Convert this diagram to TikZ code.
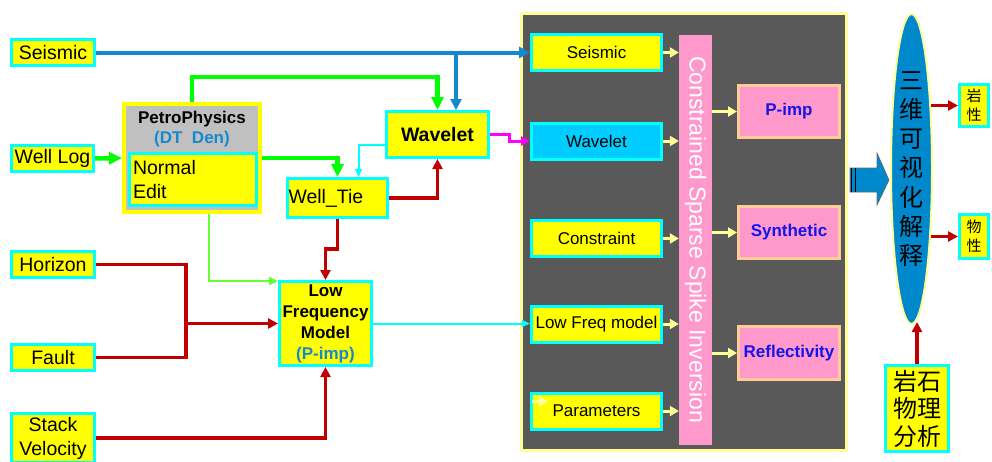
\documentclass[tikz,border=0pt]{standalone}
\usepackage{fontspec}
\setmainfont{Liberation Sans}
\newfontfamily\cjk{Noto Sans CJK SC}
\usetikzlibrary{arrows.meta,shapes.geometric,calc}
\definecolor{cyB}{RGB}{0,255,255}
\definecolor{yeF}{RGB}{255,255,0}
\definecolor{lblue}{RGB}{22,137,206}
\definecolor{gr}{RGB}{0,255,0}
\definecolor{lgr}{RGB}{102,255,51}
\definecolor{rd}{RGB}{192,0,0}
\definecolor{mg}{RGB}{255,0,255}
\definecolor{pan}{RGB}{89,89,89}
\definecolor{pale}{RGB}{255,255,153}
\definecolor{pk}{RGB}{255,153,204}
\definecolor{tanb}{RGB}{255,204,153}
\definecolor{otxt}{RGB}{20,20,235}
\definecolor{ppgray}{RGB}{192,192,192}
\definecolor{wcy}{RGB}{0,204,255}
\definecolor{ellb}{RGB}{0,136,204}
\tikzset{
  box/.style={draw=cyB, line width=3pt, fill=yeF, inner sep=0pt, align=center, font=\fontsize{19.5}{23}\selectfont},
  rbox/.style={box, font=\fontsize{17}{20}\selectfont, minimum width=130pt, minimum height=36pt},
  obox/.style={draw=tanb, line width=3pt, fill=pk, inner sep=0pt, minimum width=101pt, minimum height=52pt, font=\bfseries\fontsize{17}{20}\selectfont, text=otxt},
  blueA/.style={draw=lblue, line width=4pt, -{Triangle[length=11pt,width=11pt]}},
  greenA/.style={draw=gr, line width=4.5pt, -{Triangle[length=13pt,width=12pt]}},
  lgreenA/.style={draw=lgr, line width=2.2pt, -{Triangle[length=9pt,width=8pt]}},
  cyanA/.style={draw=cyB, line width=2pt, -{Triangle[length=8pt,width=7pt]}},
  redA/.style={draw=rd, line width=3.5pt, -{Triangle[length=10pt,width=10pt]}},
  redL/.style={draw=rd, line width=3.5pt},
  magA/.style={draw=mg, line width=3pt, -{Triangle[length=9pt,width=9pt]}},
  yA/.style={draw=pale, line width=3pt, -{Triangle[length=9pt,width=10pt]}},
}
\begin{document}
\begin{tikzpicture}[x=1pt,y=-1pt]
\useasboundingbox (0,0) rectangle (992,461);
% panel
\node[draw=pale, line width=3pt, fill=pan, minimum width=325pt, minimum height=437pt, inner sep=0pt] (panel) at (684,232) {};
% left inputs
\node[box, minimum width=83pt, minimum height=26pt] (sL) at (53,52.5) {Seismic};
\node[box, minimum width=82pt, minimum height=26pt] (wL) at (52.5,158.5) {Well Log};
\node[box, minimum width=83pt, minimum height=26pt] (hL) at (53,264.5) {Horizon};
\node[box, minimum width=83pt, minimum height=26pt] (fL) at (53,357.5) {Fault};
\node[box, minimum width=83pt, minimum height=49pt, font=\fontsize{19.5}{24}\selectfont] (svL) at (53,438) {Stack\\Velocity};
% petrophysics
\node[draw=yeF, line width=4pt, fill=ppgray, minimum width=136pt, minimum height=108pt, inner sep=0pt] (pp) at (192,158) {};
\node[font=\bfseries\fontsize{17}{20}\selectfont, align=center, inner sep=0pt] (ppT) at (192,129) {PetroPhysics\\\textcolor{lblue}{(DT\ \ Den)}};
\node[box, minimum height=52pt, text width=120pt, inner xsep=3.5pt, align=left, font=\fontsize{19.5}{24}\selectfont] (ppIn) at (193,179.5) {Normal\\Edit};
% wavelet, well tie, LFM
\node[box, font=\bfseries\fontsize{19.5}{23}\selectfont, minimum width=102pt, minimum height=46pt] (wav) at (437.5,134.5) {Wavelet};
\node[box, minimum height=39pt, text width=98pt, inner xsep=1pt, align=left] (wt) at (337.5,198) {Well\_Tie};
\node[box, font=\bfseries\fontsize{17}{21}\selectfont, minimum width=92pt, minimum height=84pt] (lfm) at (325.5,323.5) {Low\\Frequency\\Model\\\textcolor{lblue}{(P-imp)}};
% right panel boxes
\node[rbox] (rS) at (596.5,52.5) {Seismic};
\node[rbox, fill=wcy] (rW) at (596.5,141) {Wavelet};
\node[rbox] (rC) at (596.5,238.5) {Constraint};
\node[rbox] (rL) at (596.5,324) {Low Freq model};
\node[rbox] (rP) at (596.5,411) {Parameters};
\node[fill=pk, minimum width=33pt, minimum height=410pt, inner sep=0pt] (bar) at (695.5,240) {};
\node[rotate=-90, text=white, font=\fontsize{23}{26}\selectfont, inner sep=0pt] (barT) at (695.5,239.5) {Constrained Sparse Spike Inversion};
\node[obox] (oP) at (789,111.5) {P-imp};
\node[obox] (oS) at (789,232.5) {Synthetic};
\node[obox, minimum height=53pt] (oR) at (789,353) {Reflectivity};
% big arrow
\fill[ellb, draw=black!60, line width=0.6pt] (850,168) -- (877,168) -- (877,153) -- (889,180) -- (877,205) -- (877,192) -- (850,192) -- cycle;
\draw[black, line width=1pt] (851.5,168) -- (851.5,192);
\draw[black, line width=1pt] (855,168) -- (855,192);
% ellipse
\node[ellipse, draw=pale, line width=2pt, fill=ellb, minimum width=41pt, minimum height=310pt, inner sep=0pt, align=center, font=\cjk\fontsize{24}{29.3}\selectfont] (ell) at (911.5,169) {三\\维\\可\\视\\化\\解\\释};
\node[box, minimum width=29pt, minimum height=42pt, font=\cjk\fontsize{15}{19}\selectfont] (yx) at (974,105.5) {岩\\性};
\node[box, minimum width=29pt, minimum height=44pt, font=\cjk\fontsize{15}{19}\selectfont] (wx) at (974,236.5) {物\\性};
\node[box, minimum width=63pt, minimum height=86pt, font=\cjk\fontsize{24}{27.5}\selectfont] (ys) at (917,408.5) {岩石\\物理\\分析};
% connectors
\draw[blueA] (sL.east) -- (rS.west);
\coordinate (bj) at (456,52.5);
\draw[blueA] (bj) -- (bj |- wav.north);
\draw[greenA] (pp.north) -- ++(0,-25) -| (wav.north);
\draw[greenA] (wL.east) -- (pp.west);
\draw[greenA] (pp.east) -| (wt.north);
\draw[lgreenA] ($(pp.south)+(17,0)$) |- ($(lfm.north west)+(0,1)$);
\draw[cyanA] ($(wav.west)+(0,10.5)$) -| ($(wt.north)+(21,0)$);
\draw[redA] (wt.east) -| (wav.south);
\draw[redA] (wt.south) |- ($(lfm.north)+(0,-31)$) -- (lfm.north);
\coordinate (j1) at (186,323.5);
\draw[redL] (hL.east) -| (j1);
\draw[redL] (fL.east) -| (j1);
\draw[redA] (j1) -- (lfm.west);
\draw[redA] (svL.east) -| (lfm.south);
\draw[cyanA] (lfm.east) -- (lfm.east -| rL.west);
\draw[magA] (wav.east) -- ++(19,0) |- (rW.west);
\foreach \n in {rS,rW,rC,rL,rP} \draw[yA] (\n.east) -- (\n.east -| bar.west);
\foreach \n in {oP,oS,oR} \draw[yA] (\n.west -| bar.east) -- (\n.west);
\draw[yA] ($(rP.north west)+(2,10)$) -- ++(16,0);
\draw[redA] ($(yx.west -| ell.east)+(-2,0)$) -- (yx.west);
\draw[redA] ($(wx.west -| ell.east)+(-2,0)$) -- (wx.west);
\draw[redA] (ys.north) -- ($(ys.north |- ell.south)+(0,-3)$);
\end{tikzpicture}
\end{document}
